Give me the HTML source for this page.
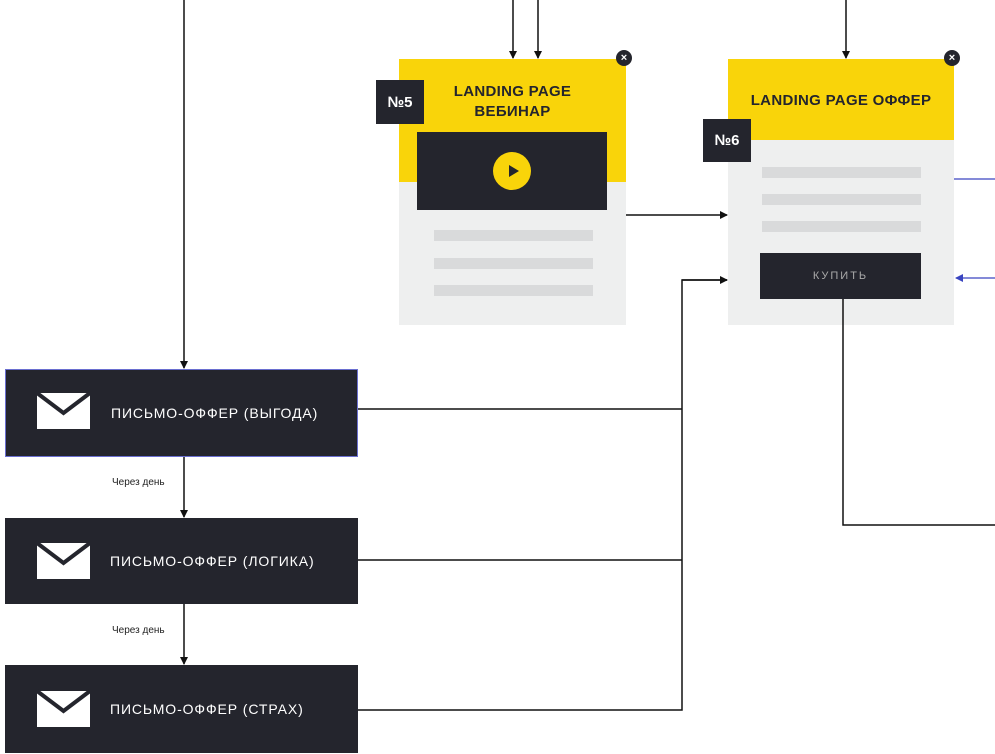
<!DOCTYPE html><html><head><meta charset="utf-8"><style>
body{margin:0;width:995px;height:754px;background:#fff;position:relative;overflow:hidden;font-family:"Liberation Sans","DejaVu Sans",sans-serif}
.a{position:absolute}
.card{background:#eeefef}
.yel{background:#f9d40a}
.dark{background:#24252d}
.bar{background:#d9dadb;height:11px}
.badge{background:#24252d;color:#fff;font-weight:bold;font-size:15px;display:flex;align-items:center;justify-content:center}
.title{color:#24252d;font-weight:bold;font-size:15px;text-align:center;line-height:20px;letter-spacing:.3px}
.mail{background:#24252d;color:#fff;font-size:14px;letter-spacing:.9px}
.mail span{position:absolute;left:105px;top:50%;transform:translateY(-50%)}
.cl{width:16px;height:16px;border-radius:50%;background:#24252d;color:#fff;font-size:11px;font-weight:bold;text-align:center;line-height:16px}
.lbl{font-size:10px;color:#222}
</style></head><body>
<div class="a card" style="left:399px;top:59px;width:227px;height:266px"></div>
<div class="a yel" style="left:399px;top:59px;width:227px;height:123px"></div>
<div class="a title" style="left:399px;top:82px;width:227px">LANDING PAGE<br>ВЕБИНАР</div>
<div class="a dark" style="left:417px;top:132px;width:190px;height:78px"></div>
<div class="a" style="left:493px;top:152px;width:38px;height:38px;border-radius:50%;background:#f9d40a"></div>
<div class="a" style="left:509px;top:165px;width:0;height:0;border-left:10px solid #24252d;border-top:6px solid transparent;border-bottom:6px solid transparent"></div>
<div class="a bar" style="left:434px;top:230px;width:159px"></div>
<div class="a bar" style="left:434px;top:258px;width:159px"></div>
<div class="a bar" style="left:434px;top:285px;width:159px"></div>
<div class="a badge" style="left:376px;top:80px;width:48px;height:44px">№5</div>
<div class="a cl" style="left:616px;top:50px">×</div>

<div class="a card" style="left:728px;top:59px;width:226px;height:266px"></div>
<div class="a yel" style="left:728px;top:59px;width:226px;height:81px"></div>
<div class="a title" style="left:728px;top:91px;width:226px">LANDING PAGE ОФФЕР</div>
<div class="a bar" style="left:762px;top:167px;width:159px"></div>
<div class="a bar" style="left:762px;top:194px;width:159px"></div>
<div class="a bar" style="left:762px;top:221px;width:159px"></div>
<div class="a dark" style="left:760px;top:253px;width:161px;height:46px;color:#aaa;font-size:11px;letter-spacing:2px;text-align:center;line-height:46px">КУПИТЬ</div>
<div class="a badge" style="left:703px;top:119px;width:48px;height:43px">№6</div>
<div class="a cl" style="left:944px;top:50px">×</div>

<div class="a mail" style="left:5px;top:369px;width:351px;height:86px;border:1px solid #6a6fd0"><span>ПИСЬМО-ОФФЕР (ВЫГОДА)</span></div>
<div class="a mail" style="left:5px;top:518px;width:353px;height:86px"><span>ПИСЬМО-ОФФЕР (ЛОГИКА)</span></div>
<div class="a mail" style="left:5px;top:665px;width:353px;height:88px"><span>ПИСЬМО-ОФФЕР (СТРАХ)</span></div>
<div class="a lbl" style="left:112px;top:477px">Через день</div>
<div class="a lbl" style="left:112px;top:625px">Через день</div>

<svg class="a" style="left:0;top:0" width="995" height="754">
<defs><marker id="m" markerWidth="8" markerHeight="8" refX="7" refY="4" orient="auto" markerUnits="userSpaceOnUse"><path d="M0,0L8,4L0,8z" fill="#111"/></marker>
<marker id="b" markerWidth="8" markerHeight="8" refX="7" refY="4" orient="auto" markerUnits="userSpaceOnUse"><path d="M0,0L8,4L0,8z" fill="#3a45c0"/></marker></defs>
<path d="M37,393h53v36h-53z" fill="#fff"/>
<path d="M37,393l26.5,20l26.5,-20" fill="none" stroke="#24252d" stroke-width="4"/>
<path d="M37,543h53v36h-53z" fill="#fff"/><path d="M37,543l26.5,20l26.5,-20" fill="none" stroke="#24252d" stroke-width="4"/>
<path d="M37,691h53v36h-53z" fill="#fff"/><path d="M37,691l26.5,20l26.5,-20" fill="none" stroke="#24252d" stroke-width="4"/>
<g stroke="#111" stroke-width="1.5" fill="none">
<path d="M184,0V368" marker-end="url(#m)"/>
<path d="M184,457V517" marker-end="url(#m)"/>
<path d="M184,604V664" marker-end="url(#m)"/>
<path d="M513,0V58" marker-end="url(#m)"/>
<path d="M538,0V58" marker-end="url(#m)"/>
<path d="M846,0V58" marker-end="url(#m)"/>
<path d="M626,215H727" marker-end="url(#m)"/>
<path d="M358,409H682M358,560H682M358,710H682V280H727" />
<path d="M682,280H727" marker-end="url(#m)"/>
<path d="M843,299V525H995"/>
</g>
<path d="M954,179H995" stroke="#3a45c0" stroke-width="1.2"/>
<path d="M995,278H956" stroke="#3a45c0" stroke-width="1.2" marker-end="url(#b)"/>
</svg>
</body></html>
